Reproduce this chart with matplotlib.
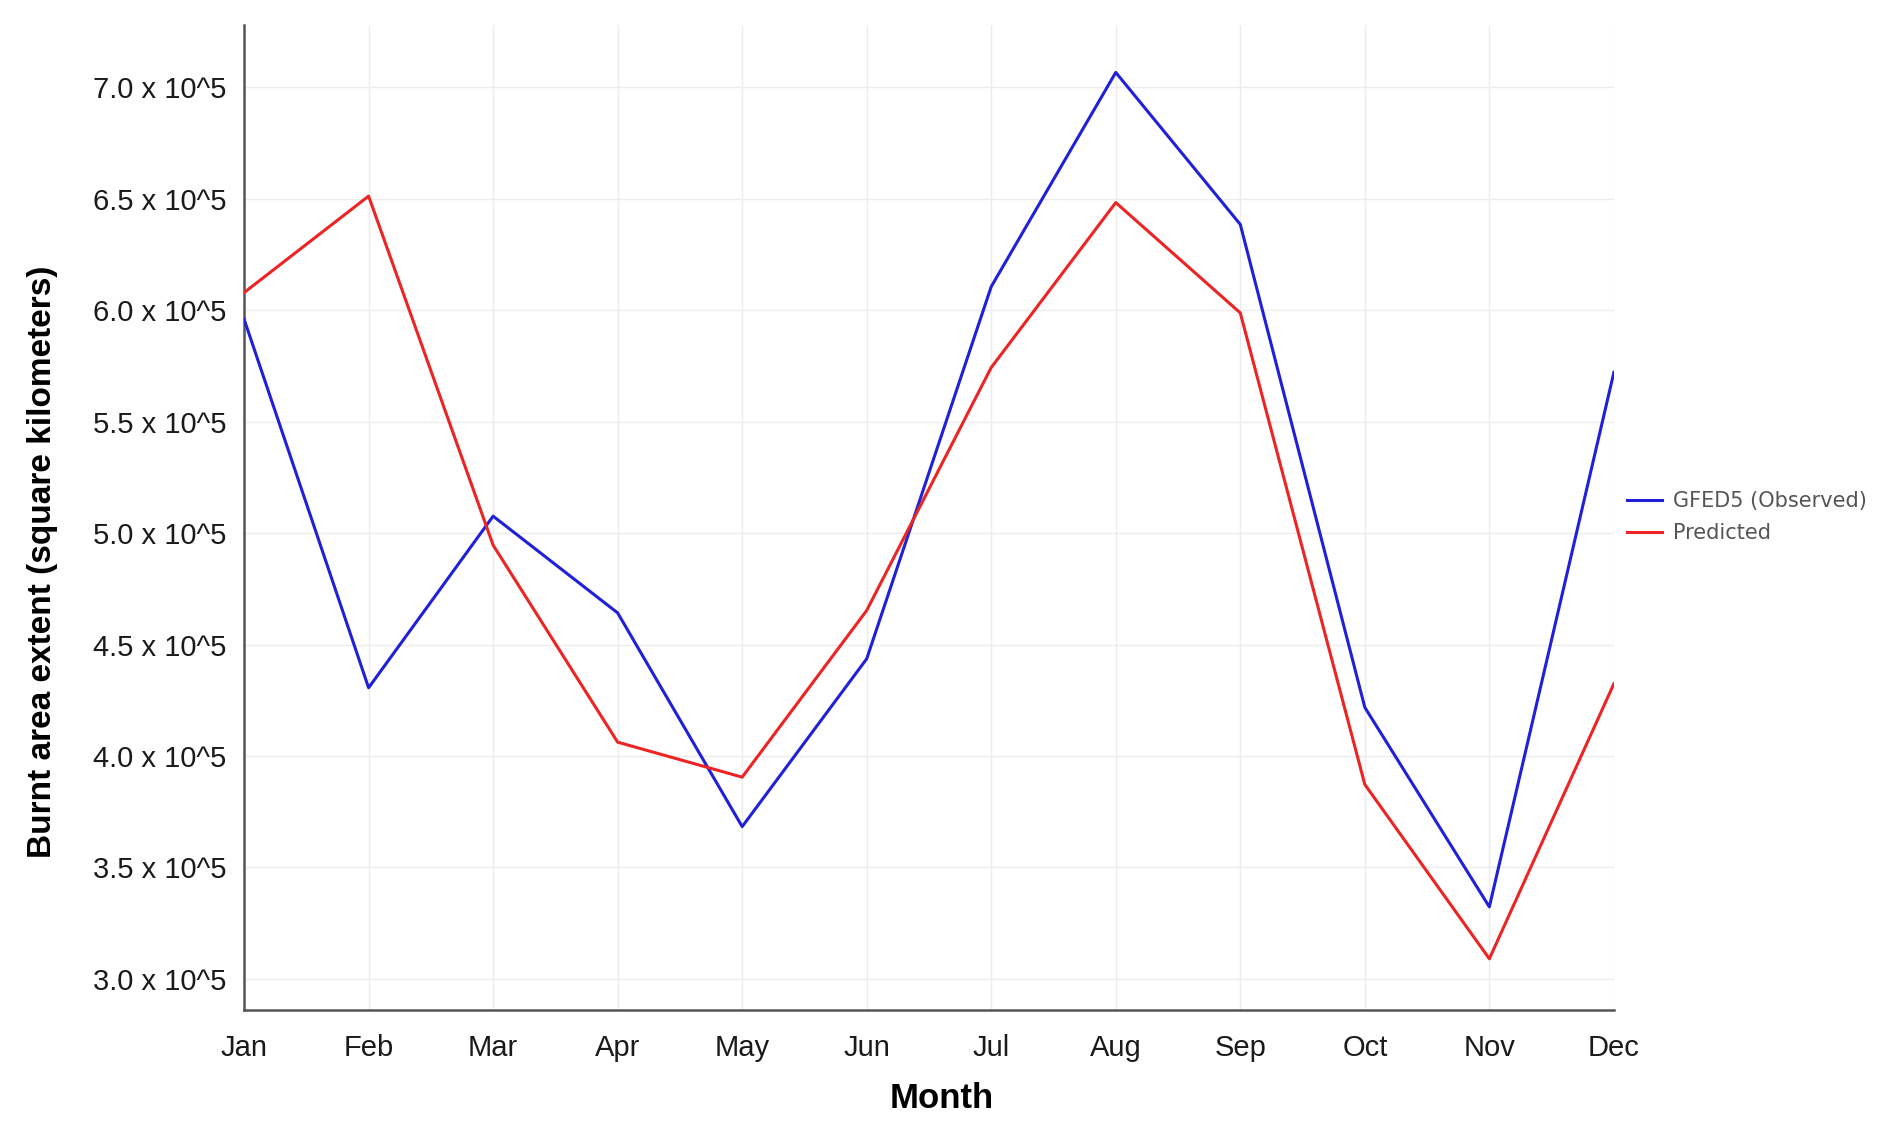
"""Monthly burnt area: GFED5 observations vs. model prediction."""

import matplotlib

matplotlib.use("Agg")
import matplotlib.pyplot as plt
from matplotlib.ticker import FuncFormatter

MONTHS = ["Jan", "Feb", "Mar", "Apr", "May", "Jun",
          "Jul", "Aug", "Sep", "Oct", "Nov", "Dec"]

# burnt area, square kilometres
OBSERVED = [596000, 430600, 507600, 464200, 368300, 443600,
            610600, 706700, 638500, 421800, 332300, 572100]
PREDICTED = [607900, 651200, 494600, 406200, 390500, 465300,
             574300, 648300, 598800, 387200, 309000, 432400]

Y_TICKS = [300000, 350000, 400000, 450000, 500000, 550000, 600000, 650000, 700000]

plt.rcParams["font.family"] = ["Liberation Sans", "DejaVu Sans"]

fig = plt.figure(figsize=(18.92, 11.34), dpi=100)
axis = fig.add_axes([0.129, 0.1093, 0.724, 0.8687])

x = range(len(MONTHS))
axis.plot(x, OBSERVED, color="#2020d8", lw=2.2, label="GFED5 (Observed)", zorder=3)
axis.plot(x, PREDICTED, color="#ec2424", lw=2.2, label="Predicted", zorder=3)

axis.set_xlim(0, len(MONTHS) - 1)
axis.set_ylim(286000, 728000)
axis.set_xticks(list(x))
axis.set_xticklabels(MONTHS)
axis.set_yticks(Y_TICKS)
axis.yaxis.set_major_formatter(FuncFormatter(lambda v, _: f"{v / 1e5:.1f} x 10^5"))

axis.grid(True, color="#ececec", lw=1.0, zorder=0)
axis.tick_params(length=0, labelsize=21, colors="#1a1a1a")
axis.tick_params(axis="y", pad=13)
axis.tick_params(axis="x", pad=17)
for side in ("top", "right"):
    axis.spines[side].set_visible(False)
for side in ("left", "bottom"):
    axis.spines[side].set_color("#555555")
    axis.spines[side].set_linewidth(1.8)

axis.set_xlabel("Month", fontsize=25, fontweight="bold")
axis.xaxis.set_label_coords(0.509, -0.073)
axis.set_ylabel("Burnt area extent (square kilometers)", fontsize=24, fontweight="bold")
axis.yaxis.set_label_coords(-0.136, 0.455)

legend = fig.legend(
    loc="center left", bbox_to_anchor=(0.850, 0.544), frameon=False,
    prop={"family": "DejaVu Sans", "size": 15}, handlelength=1.7,
    handletextpad=0.5, labelspacing=0.55,
)
for text in legend.get_texts():
    text.set_color("#555555")

fig.savefig("out.png", dpi=100)
